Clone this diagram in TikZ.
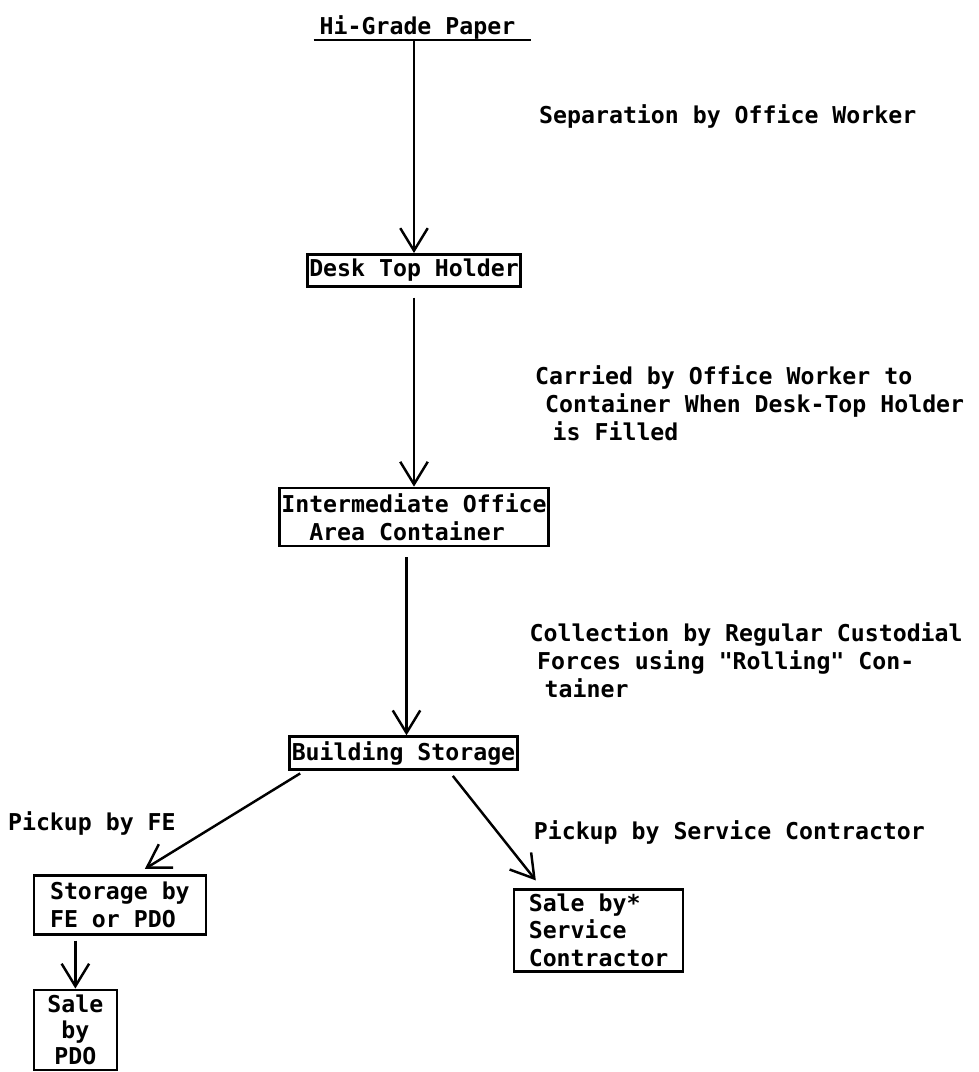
\documentclass[tikz,border=0pt]{standalone}
\usepackage{fontspec}
\setmainfont{DejaVu Sans Mono}[Ligatures=TeXOff]
\usetikzlibrary{arrows.meta,positioning,calc}
\newcommand{\typefont}{\fontsize{13.2}{15.8}\selectfont\bfseries}
\tikzset{
	holder/.style={
		rectangle,
		draw,
		line width=1.5pt,
		inner xsep=1pt,
		inner ysep=1pt,
		align=left,
	},
	link/.style={
		->,
		line width=1.4pt,
	},
	remark/.style={
		inner sep=0pt,
		anchor=west,
		align=left,
	},
}

\begin{document}
\begin{tikzpicture}[>={Straight Barb[length=4.5mm,width=5.5mm]},font=\typefont]
\useasboundingbox (0,0) rectangle (19.56,-21.44);

\node[anchor=base] (paper) at (8.35,-0.68) {Hi-Grade Paper};
\coordinate (ul) at ([yshift=-1.2mm]paper.base);
\draw[line width=1.5pt] ([yshift=-1.2mm]paper.base west) -- ([xshift=2mm,yshift=-1.2mm]paper.base east);

\node[holder,minimum width=4.24cm,minimum height=6.4mm] (desk) [below=4.26cm of ul,xshift=-0.7mm] {Desk Top Holder};
\node[holder,minimum width=5.38cm,minimum height=11.6mm] (inter) [below=3.98cm of desk] {Intermediate Office\\~~Area Container};
\node[holder,minimum width=4.56cm,minimum height=6.6mm] (build) [below=3.76cm of inter,xshift=-2.1mm] {Building Storage};
\node[holder,minimum width=3.44cm,minimum height=11.8mm] (storFE) [below left=2.06cm and 1.62cm of build] {Storage by\\FE or PDO};
\node[holder,align=center,inner ysep=0.5pt,font=\typefont\fontsize{13.2}{15}\selectfont,minimum width=1.66cm,minimum height=16mm] (salePDO) [below=1.06cm of storFE.south west,anchor=north west] {Sale\\by\\PDO};
\node[holder,minimum width=3.38cm,minimum height=16.4mm] (saleSC) [below right=2.34cm and -1.2mm of build] {Sale by*\\Service\\Contractor};

\draw[link] 
  (desk.north |- ul) 
  -- 
  node[remark,pos=0.36,xshift=2.48cm]{Separation by Office Worker} 
  (desk.north);

\draw[link,shorten <=2mm] 
  (desk.south) 
  -- 
  node[remark,pos=0.58,xshift=2.4cm]{Carried by Office Worker to\\\hspace*{2mm}Container When Desk-Top Holder\\\hspace*{3.5mm}is Filled} 
  (inter.north);

\draw[link,shorten <=2mm] 
  ([xshift=0.6mm]build.north |- inter.south) 
  -- 
  node[remark,pos=0.6,xshift=2.44cm]{Collection by Regular Custodial\\\hspace*{1.5mm}Forces using "Rolling" Con-\\\hspace*{3mm}tainer} 
  ([xshift=0.6mm]build.north);

\draw[link] 
  ([xshift=2.4mm,yshift=-0.5mm]build.south west) 
  -- 
  node[remark,anchor=east,pos=0.52,xshift=-8.5mm]{Pickup by FE} 
  ([xshift=5mm,yshift=1mm]storFE.north);

\draw[link] 
  ([xshift=-1.32cm,yshift=-1mm]build.south east) 
  -- 
  node[remark,pos=0.54,xshift=7mm]{Pickup by Service Contractor} 
  ([xshift=4.6mm,yshift=1.5mm]saleSC.north west);

\draw[link,shorten <=1mm] 
  (storFE.south -| salePDO.north) 
  -- 
  (salePDO.north);

\end{tikzpicture}
\end{document}
